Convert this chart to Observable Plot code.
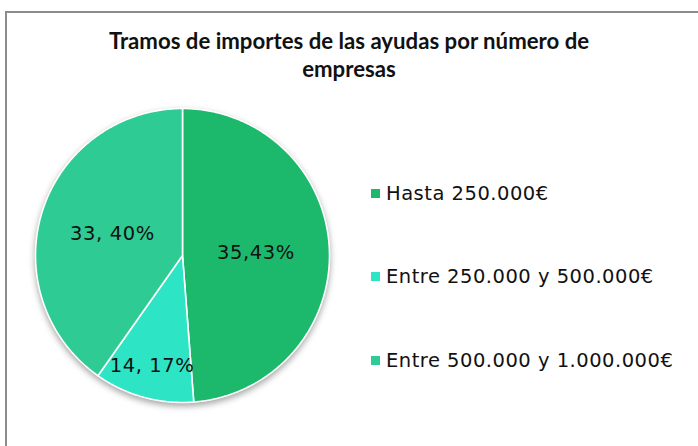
<!DOCTYPE html>
<html>
<head>
<meta charset="utf-8">
<script src="https://cdn.jsdelivr.net/npm/d3@7"></script>
<script src="https://cdn.jsdelivr.net/npm/@observablehq/plot@0.6"></script>
<style>
  html, body { margin: 0; padding: 0; background: #fff; }
  #page { position: relative; width: 698px; height: 446px; overflow: hidden; }
  #frame { position: absolute; left: 5px; top: 11px; width: 720px; height: 460px;
           border: 2px solid #8c8c8c; box-sizing: border-box; }
  #title { position: absolute; left: 0; width: 698px; top: 27px; text-align: center;
           font-family: Lato, sans-serif; font-weight: 700; font-size: 22.2px; line-height: 28px; color: #111; }
  #pie { position: absolute; left: 32px; top: 105px; }
  #pie svg { overflow: visible; }
  #legend { position: absolute; left: 371px; top: 178px; font-family: "DejaVu Sans", sans-serif;
            font-size: 19.5px; letter-spacing: 0.5px; color: #111; }
  .row { display: flex; align-items: center; height: 30px; margin-bottom: 53.5px; white-space: nowrap; }
  .sw { width: 9px; height: 9px; margin-right: 6px; }
</style>
</head>
<body>
<div id="page">
  <div id="frame"></div>
  <div id="title">Tramos de importes de las ayudas por número de<br>empresas</div>
  <div id="pie"></div>
  <div id="legend"></div>
</div>
<script>
// Categories (legend order)
const categories = ["Hasta 250.000€", "Entre 250.000 y 500.000€", "Entre 500.000 y 1.000.000€"];
// Slice sizes as drawn in the picture (angles)
const sliceValues = [40, 9, 33];
// Data label texts as printed in the reference
const labelTexts = ["35,43%", "14, 17%", "33, 40%"];
// Colours
const colors = ["#1cb96d", "#2de4c4", "#2ecb94"];

const labelRadius = [0.5, 0.78, 0.5];

const total = d3.sum(sliceValues);
let acc = 0;
const slices = sliceValues.map((v, i) => {
  const a0 = acc / total * 2 * Math.PI;
  acc += v;
  const a1 = acc / total * 2 * Math.PI;
  return {i, name: categories[i], a0, a1};
});

// Polygon outline for each slice (angle clockwise from 12 o'clock)
const pts = [];
for (const s of slices) {
  pts.push({name: s.name, x: 0, y: 0});
  const n = Math.max(2, Math.ceil((s.a1 - s.a0) / 0.01));
  for (let k = 0; k <= n; k++) {
    const a = s.a0 + (s.a1 - s.a0) * k / n;
    pts.push({name: s.name, x: Math.sin(a), y: Math.cos(a)});
  }
  pts.push({name: s.name, x: 0, y: 0});
}

const labels = slices.map(s => {
  const m = (s.a0 + s.a1) / 2, r = labelRadius[s.i];
  return {text: labelTexts[s.i], x: r * Math.sin(m), y: r * Math.cos(m)};
});

const size = 300, pad = 3;
const plot = Plot.plot({
  width: size, height: size,
  margin: pad,
  x: {domain: [-1, 1], axis: null},
  y: {domain: [-1, 1], axis: null},
  color: {domain: categories, range: colors},
  style: {background: "transparent", overflow: "visible"},
  marks: [
    Plot.line(pts, {x: "x", y: "y", z: "name", fill: "name", stroke: "#fff",
      strokeWidth: 1.6, strokeLinejoin: "round", curve: "linear"}),
    Plot.text(labels, {x: "x", y: "y", text: "text", fill: "#111",
      fontSize: 19.5, fontFamily: "DejaVu Sans"})
  ]
});
document.getElementById("pie").appendChild(plot);
d3.select(plot).select("g[aria-label='line']").style("filter", "drop-shadow(0px 3px 3px rgba(0,0,0,0.35))");
d3.select(plot).select("g[aria-label='text']").style("letter-spacing", "0.6px");

const legend = d3.select("#legend");
categories.forEach((c, i) => {
  const row = legend.append("div").attr("class", "row");
  row.append("div").attr("class", "sw").style("background", colors[i]);
  row.append("span").text(c);
});
</script>
</body>
</html>
